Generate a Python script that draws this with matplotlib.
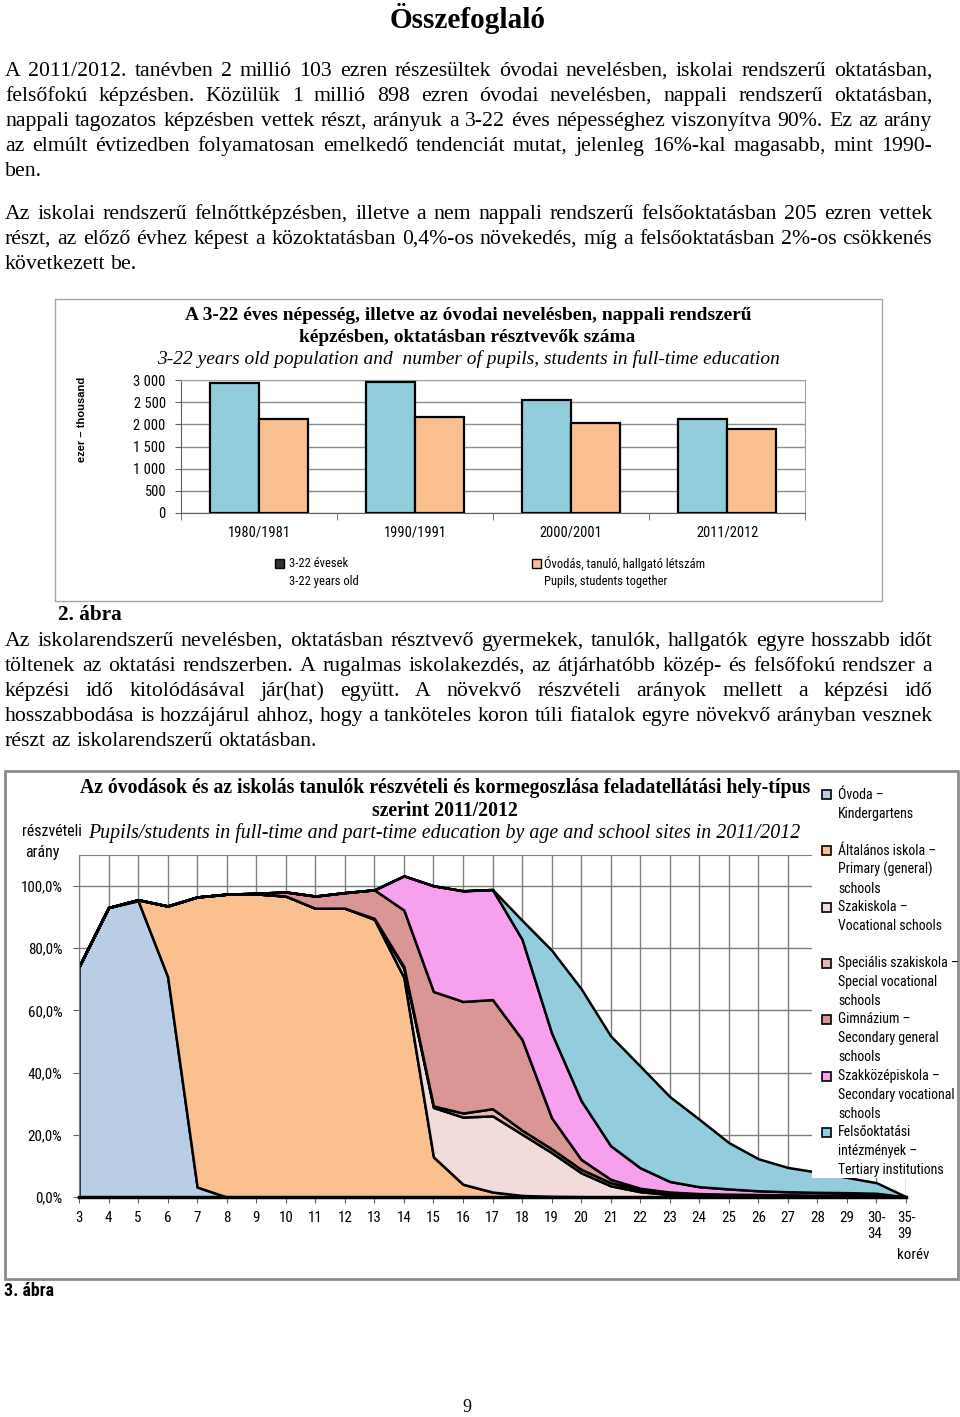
import os
import numpy as np
import matplotlib
matplotlib.use("Agg")
import matplotlib.pyplot as plt
from matplotlib.font_manager import FontProperties, fontManager
from matplotlib.patches import Rectangle

# ---------------- data ----------------
years = ["1980/1981", "1990/1991", "2000/2001", "2011/2012"]
population_3_22 = [2940, 2955, 2548, 2125]
pupils_together = [2110, 2155, 2035, 1898]
bar_ticks = [0, 500, 1000, 1500, 2000, 2500, 3000]
bar_tick_labels = ["0", "500", "1 000", "1 500", "2 000", "2 500", "3 000"]

ages = [str(a) for a in range(3, 30)] + ["30-\n34", "35-\n39"]
ovoda = [74.1, 93.1, 95.3, 70.9, 3.2] + [0] * 24
altalanos = [0, 0, 0.3, 22.7, 93.3, 97.4, 97.5, 96.8, 92.9, 92.9, 89.3, 70.6,
             12.9, 4.1, 1.6, 0.5, 0.2, 0.1] + [0] * 11
szakiskola = [0] * 10 + [0.2, 2.9, 15.9, 21.6, 24.5, 19.7, 14.1, 7.7, 3.6, 1.7,
                         0.8, 0.45, 0.3, 0.25, 0.2, 0.2, 0.15, 0.1, 0]
specialis = [0] * 10 + [0.1, 0.6, 0.5, 1.3, 2.3, 1.3, 1.2, 1.1, 1.0, 0.6,
                        0.4, 0.25, 0.2, 0.15, 0.15, 0.1, 0.15, 0.1, 0]
gimnazium = [0] * 6 + [0.2, 1.3, 3.9, 5.0, 9.2, 18.2, 36.8, 35.9, 35.1, 29.2,
                       10.0, 3.2, 1.1, 0.5, 0.4, 0.4, 0.4, 0.4, 0.35, 0.3, 0.3, 0.3, 0]
szakkozep = [0] * 11 + [11.0, 34.0, 35.6, 35.4, 32.2, 27.3, 18.9, 10.8, 6.6, 3.4,
                        2.2, 1.7, 1.2, 1.0, 0.9, 0.8, 0.7, 0]
felso = [0] * 15 + [6.1, 26.6, 36.0, 35.3, 32.7, 27.3, 21.7, 14.9, 10.3, 7.8,
                    6.5, 4.9, 3.4, 0.1]
area_ticks = [0, 20, 40, 60, 80, 100]
area_tick_labels = ["0,0%", "20,0%", "40,0%", "60,0%", "80,0%", "100,0%"]
area_legend = ["Óvoda –\nKindergartens",
               "Általános iskola –\nPrimary (general)\nschools",
               "Szakiskola –\nVocational schools",
               "Speciális szakiskola –\nSpecial vocational\nschools",
               "Gimnázium –\nSecondary general\nschools",
               "Szakközépiskola –\nSecondary vocational\nschools",
               "Felsőoktatási\nintézmények –\nTertiary institutions"]
area_colors = ["#B9CDE5", "#FAC090", "#F2DCDB", "#E6B9B8", "#D99694", "#F7A1EE", "#93CDDD"]

para1 = ["A 2011/2012. tanévben 2 millió 103 ezren részesültek óvodai nevelésben, iskolai rendszerű oktatásban,",
         "felsőfokú képzésben. Közülük 1 millió 898 ezren óvodai nevelésben, nappali rendszerű oktatásban,",
         "nappali tagozatos képzésben vettek részt, arányuk a 3-22 éves népességhez viszonyítva 90%. Ez az arány",
         "az elmúlt évtizedben folyamatosan emelkedő tendenciát mutat, jelenleg 16%-kal magasabb, mint 1990-",
         "ben."]
para2 = ["Az iskolai rendszerű felnőttképzésben, illetve a nem nappali rendszerű felsőoktatásban 205 ezren vettek",
         "részt, az előző évhez képest a közoktatásban 0,4%-os növekedés, míg a felsőoktatásban 2%-os csökkenés",
         "következett be."]
para3 = ["Az iskolarendszerű nevelésben, oktatásban résztvevő gyermekek, tanulók, hallgatók egyre hosszabb időt",
         "töltenek az oktatási rendszerben. A rugalmas iskolakezdés, az átjárhatóbb közép- és felsőfokú rendszer a",
         "képzési idő kitolódásával jár(hat) együtt. A növekvő részvételi arányok mellett a képzési idő",
         "hosszabbodása is hozzájárul ahhoz, hogy a tanköteles koron túli fiatalok egyre növekvő arányban vesznek",
         "részt az iskolarendszerű oktatásban."]

# ---------------- fonts ----------------
paths = [f.fname for f in fontManager.ttflist]


def find_font(patterns, fallback):
    for pat in patterns:
        for p in paths:
            if os.path.basename(p).lower() == pat.lower():
                return FontProperties(fname=p)
    for pat in patterns:
        for p in paths:
            if pat.lower().split('.')[0] in os.path.basename(p).lower():
                return FontProperties(fname=p)
    return fallback


cond = find_font(["RobotoCondensed-Regular.ttf", "LiberationSansNarrow-Regular.ttf",
                  "NotoSans-Condensed.ttf", "DejaVuSansCondensed.ttf",
                  "OpenSans_Condensed-Regular.ttf"],
                 FontProperties(family="Liberation Sans"))
cond_b = find_font(["RobotoCondensed-Bold.ttf", "LiberationSansNarrow-Bold.ttf",
                    "NotoSans-CondensedBold.ttf", "DejaVuSansCondensed-Bold.ttf",
                    "OpenSans_Condensed-Bold.ttf"],
                   FontProperties(family="Liberation Sans", weight="bold"))
serif = FontProperties(family="Liberation Serif")
serif_b = FontProperties(family="Liberation Serif", weight="bold")
serif_i = FontProperties(family="Liberation Serif", style="italic")
sans_b = FontProperties(family="Liberation Sans", weight="bold")

W, H = 960, 1417
fig = plt.figure(figsize=(9.6, 14.17), dpi=100)
fig.patch.set_facecolor("white")
renderer = fig.canvas.get_renderer()


def fx(x):
    return x / W


def fy(y):
    return 1 - y / H


def sized(fp, size):
    f = fp.copy()
    f.set_size(size)
    return f


def tw(s, fp):
    t = fig.text(0, 0, s, fontproperties=fp)
    w = t.get_window_extent(renderer).width
    t.remove()
    return w


def fit_size(s, fp, target, ref=20.0):
    return ref * target / tw(s, sized(fp, ref))


def put(x, y, s, fp, size, ha="left", va="center", **kw):
    return fig.text(fx(x), fy(y), s, fontproperties=sized(fp, size), ha=ha, va=va, **kw)


# ---------------- justified body text ----------------
X0, X1 = 5, 932
base = 14.0
fpb = sized(serif, base)
space_b = tw("a a", fpb) - tw("aa", fpb)
nat = []
for lines in (para1, para2, para3):
    for ln in lines[:-1]:
        words = ln.split(" ")
        nat.append(sum(tw(w, fpb) for w in words) + space_b * (len(words) - 1))
body_size = base * (X1 - X0) / max(nat) * 0.998
fpbody = sized(serif, body_size)
space = tw("a a", fpbody) - tw("aa", fpbody)


def paragraph(lines, baseline0, step=25.0):
    for i, ln in enumerate(lines):
        y = baseline0 + i * step
        words = ln.split(" ")
        widths = [tw(w, fpbody) for w in words]
        last = (i == len(lines) - 1)
        if not last and len(words) > 1:
            gap = (X1 - X0 - sum(widths)) / (len(words) - 1)
        else:
            gap = space
        x = X0
        for w, wd in zip(words, widths):
            fig.text(fx(x), fy(y), w, fontproperties=fpbody, ha="left", va="baseline")
            x += wd + gap


put(468, 18, "Összefoglaló", serif_b, fit_size("Összefoglaló", serif_b, 156), ha="center")
paragraph(para1, 76)
paragraph(para2, 219)
paragraph(para3, 646)

# ---------------- chart 1: bars ----------------
fig.add_artist(Rectangle((fx(55), fy(601)), 827 / W, 302 / H, transform=fig.transFigure,
                         fill=False, edgecolor="#a6a6a6", lw=1))
t1 = "A 3-22 éves népesség, illetve az óvodai nevelésben, nappali rendszerű"
t1s = fit_size(t1, serif_b, 564)
put(468, 315, t1, serif_b, t1s, ha="center")
put(467, 337, "képzésben, oktatásban résztvevők száma", serif_b, t1s, ha="center")
t1i = "3-22 years old population and  number of pupils, students in full-time education"
put(468, 359, t1i, serif_i, fit_size(t1i, serif_i, 620), ha="center")
put(82, 419, "ezer – thousand", sans_b, fit_size("ezer – thousand", sans_b, 85),
    ha="center", rotation=90)

ax1 = fig.add_axes([fx(181), fy(513), 624 / W, 133 / H])
xb = np.arange(len(years))
bw = 0.3125
ax1.bar(xb - bw / 2, population_3_22, bw, color="#92CDDC", edgecolor="black", lw=1.6, zorder=3)
ax1.bar(xb + bw / 2, pupils_together, bw, color="#FAC090", edgecolor="black", lw=1.6, zorder=3)
ax1.set_xlim(-0.5, len(years) - 0.5)
ax1.set_ylim(0, 3000)
ax1.set_yticks(bar_ticks)
ys = fit_size("3 000", cond, 32)
ax1.set_yticklabels(bar_tick_labels, fontproperties=sized(cond, ys))
ax1.set_xticks(xb)
ax1.set_xticklabels(years, fontproperties=sized(cond, fit_size("1980/1981", cond, 62)))
ax1.set_xticks(np.arange(-0.5, len(years)), minor=True)
ax1.tick_params(axis="x", which="major", length=0, pad=9)
ax1.tick_params(axis="x", which="minor", length=5, color="#606060")
ax1.tick_params(axis="y", length=4, color="#606060", pad=7)
ax1.grid(axis="y", color="#8c8c8c", lw=1)
ax1.set_axisbelow(True)
for s in ["top", "right"]:
    ax1.spines[s].set_color("#a0a0a0")
for s in ["left", "bottom"]:
    ax1.spines[s].set_color("#606060")

ls = fit_size("Óvodás, tanuló, hallgató létszám", cond, 160)
fig.add_artist(Rectangle((fx(275), fy(567.5)), 9 / W, 9 / H, transform=fig.transFigure,
                         facecolor="#303030", edgecolor="black", lw=1))
fig.add_artist(Rectangle((fx(532), fy(567.5)), 9 / W, 9 / H, transform=fig.transFigure,
                         facecolor="#FAC090", edgecolor="black", lw=1))
put(289, 563, "3-22 évesek", cond, ls)
put(289, 581, "3-22 years old", cond, ls)
put(544, 563, "Óvodás, tanuló, hallgató létszám", cond, ls)
put(544, 581, "Pupils, students together", cond, ls)

put(58, 615, "2. ábra", serif_b, fit_size("2. ábra", serif_b, 64))

# ---------------- chart 2: stacked area ----------------
fig.add_artist(Rectangle((fx(5), fy(1279)), 953 / W, 508 / H, transform=fig.transFigure,
                         fill=False, edgecolor="#8c8c8c", lw=2))
t2 = "Az óvodások és az iskolás tanulók részvételi és kormegoszlása feladatellátási hely-típus"
t2s = fit_size(t2, serif_b, 730)
put(445, 788, t2, serif_b, t2s, ha="center")
put(445, 811, "szerint 2011/2012", serif_b, t2s, ha="center")
t2i = "Pupils/students in full-time and part-time education by age and school sites in 2011/2012"
put(444, 833, t2i, serif_i, fit_size(t2i, serif_i, 711), ha="center")

ts2 = fit_size("100,0%", cond, 42)
put(52, 831, "részvételi", cond, fit_size("részvételi", cond, 60), ha="center")
put(42, 852, "arány", cond, fit_size("részvételi", cond, 60), ha="center")

ax2 = fig.add_axes([fx(79), fy(1197), 827 / W, 342 / H])
xa = np.arange(len(ages))
ax2.stackplot(xa, ovoda, altalanos, szakiskola, specialis, gimnazium, szakkozep, felso,
              colors=area_colors, edgecolor="black", linewidth=1.8, zorder=2)
ax2.set_xlim(0, len(ages) - 1)
ax2.set_ylim(0, 110)
ax2.set_yticks(area_ticks)
ax2.set_yticklabels(area_tick_labels, fontproperties=sized(cond, ts2))
ax2.set_xticks(xa)
ax2.set_xticklabels(ages, fontproperties=sized(cond, ts2))
for lab in ax2.get_xticklabels():
    lab.set_multialignment("left")
ax2.tick_params(axis="x", length=4, color="#606060", pad=6)
ax2.tick_params(axis="y", length=4, color="#606060", pad=8)
ax2.grid(True, color="#7f7f7f", lw=1)
ax2.set_axisbelow(True)
ax2.spines["right"].set_visible(False)
ax2.spines["top"].set_color("#7f7f7f")
ax2.spines["left"].set_color("#7f7f7f")
ax2.spines["bottom"].set_color("black")
ax2.spines["bottom"].set_linewidth(2.5)
ax2.spines["bottom"].set_zorder(5)
put(913, 1255, "korév", cond, ts2, ha="center")

# legend (white box overlapping the plot area)
fig.add_artist(Rectangle((fx(812), fy(1178)), 144 / W, 400 / H, transform=fig.transFigure,
                         facecolor="white", edgecolor="none", zorder=10))
leg_size = fit_size("Tertiary institutions", cond, 106)
leg_y = [795, 851, 907, 963, 1019, 1076, 1132]
for lab, col, y in zip(area_legend, area_colors, leg_y):
    fig.add_artist(Rectangle((fx(822), fy(y + 4.5)), 9 / W, 9 / H, transform=fig.transFigure,
                             facecolor=col, edgecolor="black", lw=1.2, zorder=11))
    for k, part in enumerate(lab.split("\n")):
        put(838, y + k * 18.8, part, cond, leg_size, zorder=11)

put(4, 1291, "3. ábra", cond_b, fit_size("3. ábra", cond_b, 50))
put(467, 1407, "9", serif, 13, ha="center")

fig.savefig("out.png", dpi=100, facecolor="white")
